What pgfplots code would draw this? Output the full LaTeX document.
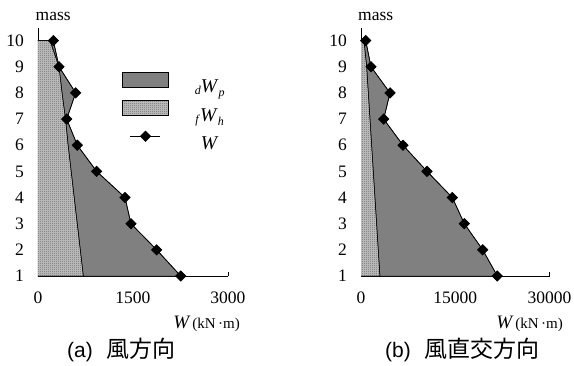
\documentclass[border=0pt]{standalone}
\usepackage{fontspec}
\setmainfont{Liberation Serif}
\newfontfamily\cjk{Noto Sans CJK JP}
\newfontfamily\arial{Liberation Sans}
\usepackage{pgfplots}
\pgfplotsset{compat=1.18}
\usetikzlibrary{patterns.meta}

\tikzdeclarepattern{
  name=finecheck,
  type=uncolored,
  bottom left={(0pt,0pt)},
  top right={(2pt,2pt)},
  tile size={(2pt,2pt)},
  code={
    \fill (0pt,0pt) rectangle (1pt,1pt);
    \fill (1pt,1pt) rectangle (2pt,2pt);
  }
}

\definecolor{areagray}{RGB}{128,128,128}

\pgfplotsset{
  mystyle/.style={
    scale only axis,
    height=248.5pt,
    axis x line=bottom, axis y line=left,
    axis line style={-, line width=0.7pt},
    ymin=1, ymax=10.5, ytick={1,2,...,10},
    ytick style={draw=none},
    xtick align=inside, major tick length=4pt,
    xtick style={line width=0.7pt, black},
    scaled x ticks=false, scaled y ticks=false,
    tick label style={font=\fontsize{17.5}{20}\selectfont},
    /pgf/number format/assume math mode=true,
    yticklabel style={inner sep=0pt, anchor=east, xshift=-12pt},
    xticklabel style={inner sep=0pt, anchor=north, yshift=-16pt},
    clip=false,
  },
  arealeg/.style={legend image code/.code={
    \path[draw=none, fill=none] (0pt,0pt) rectangle (46pt,15pt);
    \draw[##1, line width=0.6pt] (0pt,0pt) rectangle (46pt,15pt);}},
  lineleg/.style={legend image code/.code={
    \path[draw=none, fill=none] (0pt,0pt) rectangle (46pt,15pt);
    \draw[##1, mark repeat=2, mark phase=2] plot coordinates {(8pt,7.5pt) (23pt,7.5pt) (38pt,7.5pt)};}},
  Wline/.style={black, line width=0.8pt, mark=square*, mark size=3.6pt, mark options={rotate=45, solid, fill=black}},
  hatch/.style={preaction={fill=black!22}, pattern=finecheck, pattern color=black!70, draw=black, line width=0.5pt},
}

\begin{document}
\begin{tikzpicture}
\useasboundingbox (0pt,0pt) rectangle (574pt,365pt);

% ---------- (a) ----------
\begin{axis}[mystyle,
  at={(38pt,89pt)}, anchor=south west,
  width=190pt,
  xmin=0, xmax=3000, xtick={0,1500,3000}, xticklabels={0,1500,3000},
  legend style={at={(rel axis cs:0.442,0.822)}, anchor=north west, draw=none, fill=none,
    inner sep=0pt, row sep=4pt, column sep=0pt,
    font=\fontsize{19.5}{19.5}\selectfont},
  legend cell align=center,
  /tikz/every odd column/.append style={column sep=24pt},
]
\addplot[arealeg, fill=areagray, draw=black, line width=0.4pt] coordinates {
 (0,10) (242,10) (332,9) (595,8) (453,7) (621,6) (926,5) (1374,4) (1468,3) (1874,2) (2253,1) (0,1)};
\addlegendentry{\raisebox{-2pt}{\fontsize{12}{12}\selectfont\textit{d}}\textit{W}\raisebox{-4pt}{\fontsize{12}{12}\selectfont\textit{p}}}
\addplot[arealeg, hatch] coordinates {
 (0,10) (190,10) (332,9) (380,8) (435,7) (476,6) (524,5) (572,4) (620,3) (668,2) (716,1) (0,1)};
\addlegendentry{\raisebox{-2pt}{\fontsize{12}{12}\selectfont\textit{f}}\textit{W}\raisebox{-4pt}{\fontsize{12}{12}\selectfont\textit{h}}}
\addplot[lineleg, Wline] coordinates {
 (242,10) (332,9) (595,8) (453,7) (621,6) (926,5) (1374,4) (1468,3) (1874,2) (2253,1)};
\addlegendentry{\textit{W}}
\end{axis}

% ---------- (b) ----------
\begin{axis}[mystyle,
  at={(361pt,89pt)}, anchor=south west,
  width=188.5pt,
  xmin=0, xmax=30000, xtick={0,15000,30000}, xticklabels={0,15000,30000},
]
\addplot[fill=areagray, draw=black, line width=0.4pt] coordinates {
 (0,10) (748,10) (1592,9) (4616,8) (3613,7) (6685,6) (10505,5) (14533,4) (16444,3) (19372,2) (21697,1) (0,1)};
\addplot[hatch] coordinates {
 (0,10) (475,10) (905,9) (1168,8) (1431,7) (1694,6) (1957,5) (2220,4) (2484,3) (2747,2) (3010,1) (0,1)};
\addplot[Wline] coordinates {
 (748,10) (1592,9) (4616,8) (3613,7) (6685,6) (10505,5) (14533,4) (16444,3) (19372,2) (21697,1)};
\end{axis}

% ---------- texts ----------
\node[anchor=base west, inner sep=0pt, font=\fontsize{17.5}{20}\selectfont] at (35.5pt,344.3pt) {mass};
\node[anchor=base west, inner sep=0pt, font=\fontsize{17.5}{20}\selectfont] at (358pt,344.3pt) {mass};

\node[anchor=base east, inner sep=0pt] at (240pt,37pt) {{\fontsize{19}{19}\selectfont\textit{W}}\,{\fontsize{15}{15}\selectfont(kN\,·m)}};
\node[anchor=base east, inner sep=0pt] at (563pt,37pt) {{\fontsize{19}{19}\selectfont\textit{W}}\,{\fontsize{15}{15}\selectfont(kN\,·m)}};

\node[anchor=west, inner sep=0pt] at (67pt,15pt) {{\arial\fontsize{21}{21}\selectfont (a)}\hspace{14pt}{\cjk\fontsize{23}{23}\selectfont 風方向}};
\node[anchor=west, inner sep=0pt] at (385pt,15pt) {{\arial\fontsize{21}{21}\selectfont (b)}\hspace{14pt}{\cjk\fontsize{23}{23}\selectfont 風直交方向}};
\end{tikzpicture}
\end{document}
